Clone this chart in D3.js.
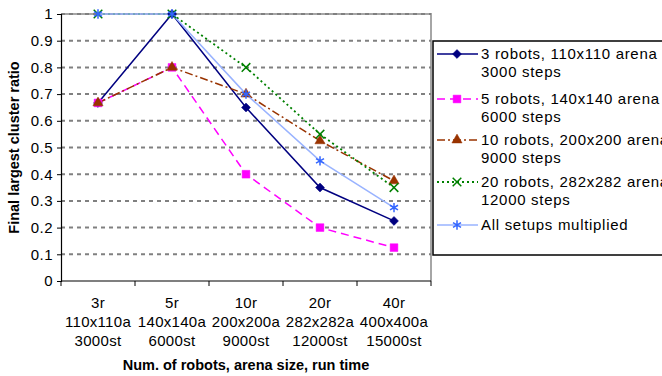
<!DOCTYPE html>
<html>
<head>
<meta charset="utf-8">
<script src="https://cdn.jsdelivr.net/npm/d3@7"></script>
<style>
  body { margin: 0; background: #fff; }
  text { font-family: "Liberation Sans", Arial, sans-serif; fill: #000; }
</style>
</head>
<body>
<div id="chart"></div>
<script>
// categories (each one drawn on three lines)
var categories = [
  ["3r", "110x110a", "3000st"],
  ["5r", "140x140a", "6000st"],
  ["10r", "200x200a", "9000st"],
  ["20r", "282x282a", "12000st"],
  ["40r", "400x400a", "15000st"]
];

// series values
var robots3  = [0.667, 1.0, 0.65, 0.35, 0.225];
var robots5  = [0.667, 0.8, 0.4, 0.2, 0.125];
var robots10 = [0.667, 0.8, 0.7, 0.525, 0.375];
var robots20 = [1.0, 1.0, 0.8, 0.55, 0.35];
var allSetups = [1.0, 1.0, 0.7, 0.45, 0.275];

var legendLabels = [
  ["3 robots, 110x110 arena", "3000 steps"],
  ["5 robots, 140x140 arena", "6000 steps"],
  ["10 robots, 200x200 arena", "9000 steps"],
  ["20 robots, 282x282 arena", "12000 steps"],
  ["All setups multiplied"]
];

var yTicks = [0, 0.1, 0.2, 0.3, 0.4, 0.5, 0.6, 0.7, 0.8, 0.9, 1];

// diamond = square turned 45 degrees
var symbolDiamondSq = {
  draw: function(context, size) {
    var r = Math.sqrt(size / 2);
    context.moveTo(0, -r);
    context.lineTo(r, 0);
    context.lineTo(0, r);
    context.lineTo(-r, 0);
    context.closePath();
  }
};

// styles per series
var series = [
  {values: robots3,  color: "#000080", dash: null,      width: 1.5, symbol: symbolDiamondSq,  size: 40, fill: true},
  {values: robots5,  color: "#ff00ff", dash: "8,5",     width: 1.5, symbol: d3.symbolSquare,   size: 60, fill: true},
  {values: robots10, color: "#993300", dash: "8,3,2,3", width: 1.5, symbol: d3.symbolTriangle, size: 45, fill: true},
  {values: robots20, color: "#008000", dash: "2,3",     width: 1.8, symbol: d3.symbolTimes,    size: 50, fill: false},
  {values: allSetups, color: "#99b3ff", dash: null,     width: 1.5, symbol: d3.symbolAsterisk, size: 60, fill: false, markColor: "#3366ff"}
];
series.forEach(function(s, i) { s.label = legendLabels[i]; });

var margin = {top: 14, right: 231, bottom: 95, left: 61},
    width = 662 - margin.left - margin.right,
    height = 376 - margin.top - margin.bottom;

var x = d3.scaleBand().domain(d3.range(categories.length)).range([0, width]);
var y = d3.scaleLinear().domain([0, 1]).range([height, 0]);

var svg = d3.select("#chart").append("svg")
    .attr("width", 662)
    .attr("height", 376)
    .append("g")
    .attr("transform", "translate(" + margin.left + "," + margin.top + ")");

// plot border (top + right, light gray)
svg.append("path")
    .attr("d", "M0,0H" + width + "V" + height)
    .attr("fill", "none")
    .attr("stroke", "#a6a6a6")
    .attr("stroke-width", 2);

// gridlines
svg.append("g")
  .selectAll("line")
  .data(yTicks.filter(function(d) { return d > 0; }))
  .join("line")
    .attr("x1", 0)
    .attr("x2", width)
    .attr("y1", function(d) { return y(d); })
    .attr("y2", function(d) { return y(d); })
    .attr("stroke", "#808080")
    .attr("stroke-width", 2)
    .attr("stroke-dasharray", "4,4");

// Y axis
var yAxis = svg.append("g")
    .call(d3.axisLeft(y).tickValues(yTicks).tickSize(4).tickPadding(4)
      .tickFormat(function(d) { return d3.format("~g")(d); }));
yAxis.select(".domain").attr("stroke", "#000").attr("stroke-width", 1.2);
yAxis.selectAll(".tick line").attr("stroke", "#000");
yAxis.selectAll("text").style("font-size", "15px").style("letter-spacing", "0.5px").attr("font-family", null);

// X axis: ticks at band boundaries
var xAxisG = svg.append("g").attr("transform", "translate(0," + height + ")");
xAxisG.append("line")
    .attr("x1", 0).attr("x2", width)
    .attr("stroke", "#000").attr("stroke-width", 1.2);
xAxisG.selectAll(".xt")
  .data(d3.range(categories.length + 1))
  .join("line")
    .attr("class", "xt")
    .attr("x1", function(d) { return d * x.step(); })
    .attr("x2", function(d) { return d * x.step(); })
    .attr("y1", 0).attr("y2", 5)
    .attr("stroke", "#000");
xAxisG.selectAll(".xl")
  .data(categories)
  .join("text")
    .attr("class", "xl")
    .attr("text-anchor", "middle")
    .style("font-size", "15px")
    .style("letter-spacing", "0.3px")
    .attr("transform", function(d, i) { return "translate(" + (x(i) + x.bandwidth() / 2) + ",0)"; })
  .selectAll("tspan")
  .data(function(d) { return d; })
  .join("tspan")
    .attr("x", 0)
    .attr("y", function(d, j) { return 27 + j * 19; })
    .text(function(d) { return d; });

// axis titles
svg.append("text")
    .attr("x", width / 2)
    .attr("y", height + 89)
    .attr("text-anchor", "middle")
    .style("font-size", "14.5px")
    .style("font-weight", "bold")
    .text("Num. of robots, arena size, run time");

svg.append("text")
    .attr("transform", "translate(" + (-42) + "," + (height / 2) + ") rotate(-90)")
    .attr("text-anchor", "middle")
    .style("font-size", "14.5px")
    .style("font-weight", "bold")
    .text("Final largest cluster ratio");

// lines
var line = d3.line()
    .x(function(d, i) { return x(i) + x.bandwidth() / 2; })
    .y(function(d) { return y(d); });

series.forEach(function(s) {
  svg.append("path")
      .datum(s.values)
      .attr("fill", "none")
      .attr("stroke", s.color)
      .attr("stroke-width", s.width)
      .attr("stroke-dasharray", s.dash)
      .attr("d", line);
});

function drawMarker(sel, s) {
  var mc = s.markColor || s.color;
  sel.append("path")
      .attr("d", d3.symbol().type(s.symbol).size(s.size))
      .attr("fill", s.fill ? mc : "none")
      .attr("stroke", mc)
      .attr("stroke-width", s.fill ? 0.5 : 1.5);
}

series.forEach(function(s) {
  svg.append("g")
    .selectAll("g")
    .data(s.values)
    .join("g")
      .attr("transform", function(d, i) { return "translate(" + (x(i) + x.bandwidth() / 2) + "," + y(d) + ")"; })
      .each(function() { drawMarker(d3.select(this), s); });
});

// legend
var legend = d3.select("svg").append("g").attr("transform", "translate(433,41)");
legend.append("rect")
    .attr("width", 240).attr("height", 214)
    .attr("fill", "#fff")
    .attr("stroke", "#000")
    .attr("stroke-width", 1.5);

var ly = [13, 58, 99, 141, 184];
series.forEach(function(s, i) {
  var g = legend.append("g").attr("transform", "translate(0," + ly[i] + ")");
  g.append("line")
      .attr("x1", 4).attr("x2", 45)
      .attr("stroke", s.color)
      .attr("stroke-width", s.width)
      .attr("stroke-dasharray", s.dash);
  var m = g.append("g").attr("transform", "translate(24,0)");
  drawMarker(m, s);
  g.append("text")
      .style("font-size", "15px")
      .style("letter-spacing", "0.7px")
    .selectAll("tspan")
    .data(s.label)
    .join("tspan")
      .attr("x", 48)
      .attr("y", function(d, j) { return 5 + j * 18; })
      .text(function(d) { return d; });
});
</script>
</body>
</html>
